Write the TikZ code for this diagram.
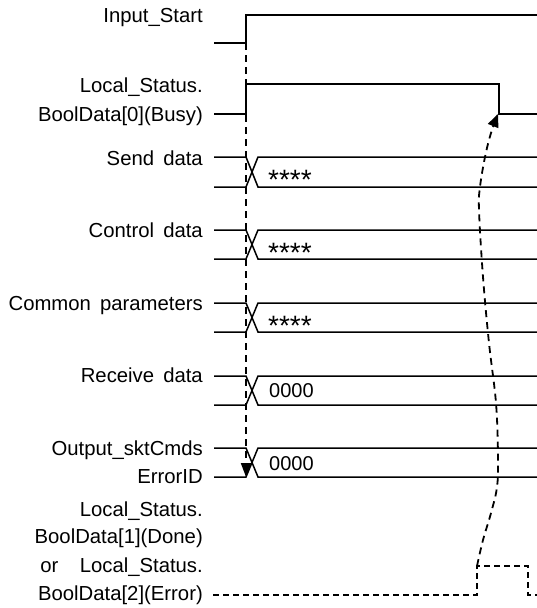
\documentclass[tikz,border=0pt]{standalone}
\usepackage{fontspec}
\setmainfont{Liberation Sans}
\usetikzlibrary{arrows.meta}
\newcommand\wsp{\hspace{0.45em}}
\begin{document}
\begin{tikzpicture}[x=1pt,y=-1pt,
  sig/.style={line width=1.5pt, line join=miter},
  lbl/.style={anchor=base east, inner sep=0pt, font=\fontsize{20.3}{24}\selectfont},
  val/.style={anchor=base west, inner sep=0pt, font=\fontsize{20}{24}\selectfont},
  star/.style={anchor=base west, inner sep=0pt, font=\fontsize{28}{30}\selectfont},
  guide/.style={line width=1.8pt, dash pattern=on 7pt off 5pt},
  tail/.style={line width=1.3pt, dash pattern=on 6pt off 4pt}]
\useasboundingbox (0,0) rectangle (537,608);

% labels
\node[lbl] (l1) at (203,22.5) {Input\_Start};
\node[lbl] (l2a) at (203,92.5) {Local\_Status.};
\node[lbl] (l2b) at (203,121.5) {BoolData[0](Busy)};
\node[lbl] (l3) at (203,165) {Send\wsp data};
\node[lbl] (l4) at (203,237.7) {Control\wsp data};
\node[lbl] (l5) at (203,310.7) {Common\wsp parameters};
\node[lbl] (l6) at (203,382.3) {Receive\wsp data};
\node[lbl] (l7a) at (203,455) {Output\_sktCmds};
\node[lbl] (l7b) at (203,483.3) {ErrorID};
\node[lbl] (l8a) at (203,516.7) {Local\_Status.};
\node[lbl] (l8b) at (203,543.5) {BoolData[1](Done)};
\node[lbl] (l8c) at (203,572.5) {or\hspace{1.05em}Local\_Status.};
\node[lbl] (l8d) at (203,600.7) {BoolData[2](Error)};

% Input_Start
\draw[sig] (214,43) -- (246,43) -- (246,15) -- (537,15);
% Busy
\draw[sig] (214,114) -- (246,114) -- (246,84) -- (499,84) -- (499,114) -- (537,114);

% bus rows
\newcommand\busrow[2]{%
  \draw[sig] (214,#1) -- (246,#1) -- (258,#2) -- (537,#2);
  \draw[sig] (214,#2) -- (246,#2) -- (258,#1) -- (537,#1);}
\busrow{157}{187}
\busrow{230}{259}
\busrow{303}{332}
\busrow{376}{405}
\busrow{448}{477}

\node[star] (v1) at (268,189) {****};
\node[star] (v2) at (268,262) {****};
\node[star] (v3) at (268,335) {****};
\node[val] (v4) at (269,397) {0000};
\node[val] (v5) at (269,470) {0000};

% Done/Error dashed
\draw[tail] (213,595) -- (477,595) -- (477,566) -- (528,566) -- (528,595) -- (537,595);

% vertical guide arrow
\coordinate (gs) at (246,43);
\coordinate (ge) at (246,477);
\draw[guide, -{Triangle[length=14pt,width=10pt]}] (gs) -- (ge);

% curved return arrow
\draw[guide, -{Triangle[length=13pt,width=11pt]}] plot[smooth, tension=0.6] coordinates {
  (477,566) (483,540) (491,513) (497,487) (498,457) (496,403) (489,343)
  (483,277) (479,210) (480,187) (485,157) (491,133) (498,114)};
\end{tikzpicture}
\end{document}
